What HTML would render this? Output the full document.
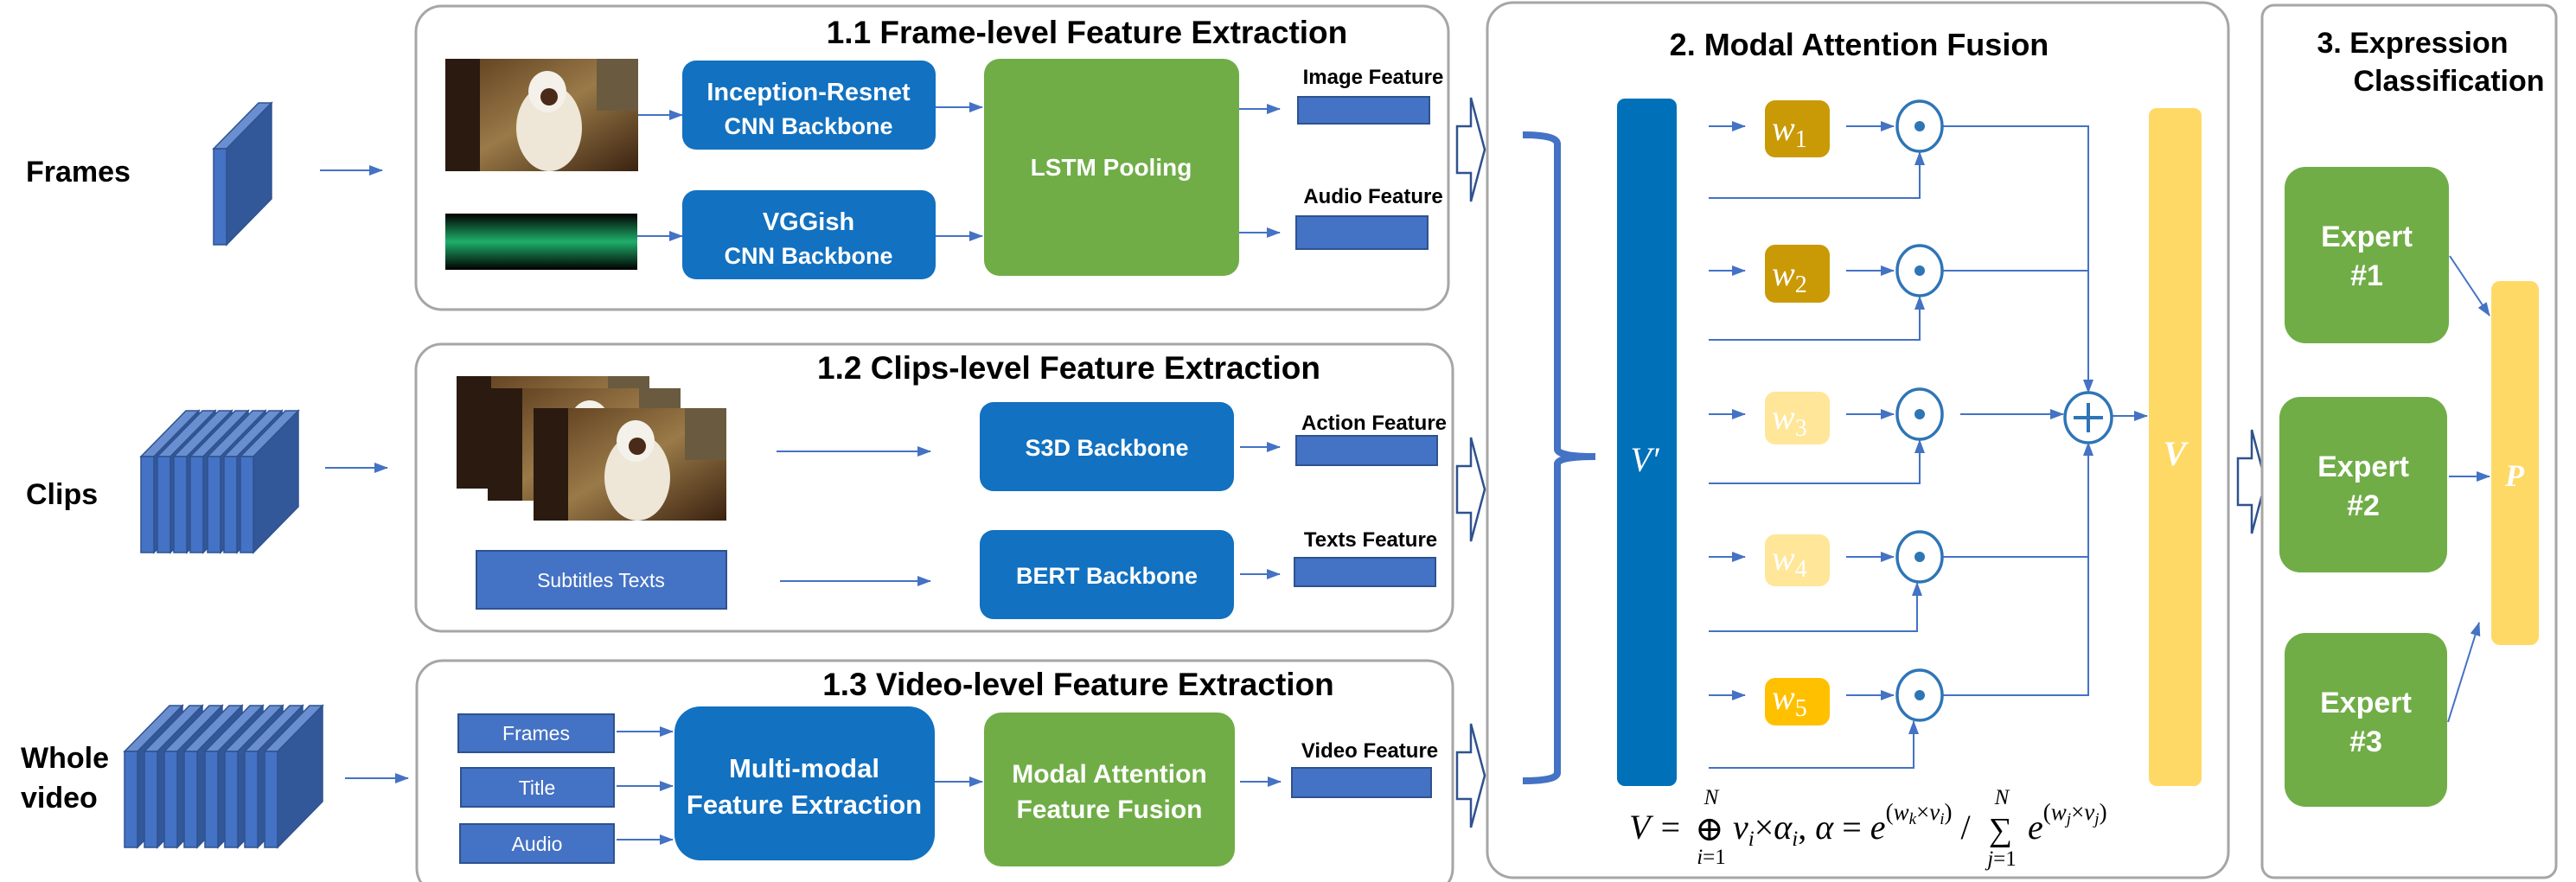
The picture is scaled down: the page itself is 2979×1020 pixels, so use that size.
<!DOCTYPE html>
<html><head><meta charset="utf-8"><style>
html,body{margin:0;padding:0;background:#fff;}
svg{display:block;}
text{font-family:"Liberation Sans",Arial,sans-serif;}
.t{font-weight:bold;fill:#000;}
.w{fill:#fff;font-weight:bold;}
text.m,.m text{font-family:"Liberation Serif","DejaVu Serif",serif;font-style:italic;}
</style></head><body>
<svg width="2979" height="1020" viewBox="0 0 2979 1020" xmlns="http://www.w3.org/2000/svg">
<defs>
<marker id="a" markerWidth="16" markerHeight="12" refX="15" refY="6" orient="auto" markerUnits="userSpaceOnUse"><path d="M0,0 L16,6 L0,12 Z" fill="#4472C4"/></marker>
<g id="slab">
<polygon points="0,0 52,-53 67,-53 15,0" fill="#6A8FD0" stroke="#2F528F" stroke-width="1.5"/>
<polygon points="15,0 67,-53 67,58 15,111" fill="#33589A" stroke="#2F528F" stroke-width="1.5"/>
<rect x="0" y="0" width="15" height="111" fill="#4472C4" stroke="#2F528F" stroke-width="1.5"/>
</g>
<linearGradient id="ph" x1="0" y1="0" x2="1" y2="1"><stop offset="0" stop-color="#5a3a1c"/><stop offset="0.5" stop-color="#9a7a48"/><stop offset="1" stop-color="#3a2210"/></linearGradient>
<g id="photo">
<rect width="223" height="130" fill="url(#ph)"/>
<rect width="40" height="130" fill="#2a1a10"/>
<ellipse cx="120" cy="80" rx="38" ry="50" fill="#eee6d6"/>
<ellipse cx="118" cy="38" rx="22" ry="24" fill="#f4f0ea"/>
<circle cx="120" cy="44" r="10" fill="#4a2a18"/>
<rect x="175" y="0" width="48" height="60" fill="#6a5a40"/>
</g>
<linearGradient id="wv" x1="0" y1="0" x2="0" y2="1"><stop offset="0" stop-color="#000"/><stop offset="0.5" stop-color="#1fae6a"/><stop offset="1" stop-color="#000"/></linearGradient>
</defs>

<text x="30" y="210" class="t" font-size="34">Frames</text>
<use href="#slab" x="247" y="172"/>
<line x1="370" y1="197" x2="442" y2="197" stroke="#4472C4" stroke-width="2" marker-end="url(#a)"/>

<text x="30" y="583" class="t" font-size="34">Clips</text>
<use href="#slab" x="163" y="528"/><use href="#slab" x="182" y="528"/><use href="#slab" x="201" y="528"/><use href="#slab" x="220" y="528"/><use href="#slab" x="240" y="528"/><use href="#slab" x="259" y="528"/><use href="#slab" x="278" y="528"/>
<line x1="376" y1="541" x2="448" y2="541" stroke="#4472C4" stroke-width="2" marker-end="url(#a)"/>

<text x="24" y="888" class="t" font-size="34">Whole</text>
<text x="24" y="934" class="t" font-size="34">video</text>
<use href="#slab" x="144" y="869"/><use href="#slab" x="167" y="869"/><use href="#slab" x="190" y="869"/><use href="#slab" x="213" y="869"/><use href="#slab" x="237" y="869"/><use href="#slab" x="260" y="869"/><use href="#slab" x="283" y="869"/><use href="#slab" x="306" y="869"/>
<line x1="399" y1="900" x2="472" y2="900" stroke="#4472C4" stroke-width="2" marker-end="url(#a)"/>

<!-- Box 1.1 -->
<rect x="481" y="7" width="1194" height="351" rx="30" fill="#fff" stroke="#A6A6A6" stroke-width="3"/>
<text x="1257" y="50" class="t" font-size="37" text-anchor="middle">1.1 Frame-level Feature Extraction</text>
<use href="#photo" x="515" y="68"/>
<rect x="515" y="247" width="222" height="65" fill="url(#wv)"/>
<rect x="789" y="70" width="293" height="103" rx="16" fill="#1271C0"/>
<text x="935" y="116" class="w" font-size="29" text-anchor="middle">Inception-Resnet</text>
<text x="935" y="155" class="w" font-size="27" text-anchor="middle">CNN Backbone</text>
<rect x="789" y="220" width="293" height="103" rx="16" fill="#1271C0"/>
<text x="935" y="266" class="w" font-size="29" text-anchor="middle">VGGish</text>
<text x="935" y="305" class="w" font-size="27" text-anchor="middle">CNN Backbone</text>
<rect x="1138" y="68" width="295" height="251" rx="18" fill="#70AD47"/>
<text x="1285" y="203" class="w" font-size="28" text-anchor="middle">LSTM Pooling</text>
<text x="1588" y="97" class="t" font-size="24" text-anchor="middle">Image Feature</text>
<rect x="1501" y="112" width="152" height="31" fill="#4472C4" stroke="#2F528F" stroke-width="2"/>
<text x="1588" y="235" class="t" font-size="24" text-anchor="middle">Audio Feature</text>
<rect x="1499" y="250" width="152" height="38" fill="#4472C4" stroke="#2F528F" stroke-width="2"/>
<g stroke="#4472C4" stroke-width="2" marker-end="url(#a)">
<line x1="738" y1="133" x2="789" y2="133"/><line x1="1082" y1="124" x2="1136" y2="124"/>
<line x1="737" y1="273" x2="789" y2="273"/><line x1="1082" y1="273" x2="1136" y2="273"/>
<line x1="1433" y1="126" x2="1480" y2="126"/><line x1="1433" y1="269" x2="1480" y2="269"/>
</g>

<!-- Box 1.2 -->
<rect x="481" y="398" width="1199" height="332" rx="30" fill="#fff" stroke="#A6A6A6" stroke-width="3"/>
<text x="1236" y="438" class="t" font-size="37" text-anchor="middle">1.2 Clips-level Feature Extraction</text>
<use href="#photo" x="528" y="435"/><use href="#photo" x="564" y="449"/><use href="#photo" x="617" y="472"/>
<rect x="551" y="637" width="289" height="67" fill="#4472C4" stroke="#2F528F" stroke-width="2"/>
<text x="695" y="679" fill="#fff" font-size="23" text-anchor="middle">Subtitles Texts</text>
<rect x="1133" y="465" width="294" height="103" rx="16" fill="#1271C0"/>
<text x="1280" y="527" class="w" font-size="27" text-anchor="middle">S3D Backbone</text>
<rect x="1133" y="613" width="294" height="103" rx="16" fill="#1271C0"/>
<text x="1280" y="675" class="w" font-size="27" text-anchor="middle">BERT Backbone</text>
<text x="1589" y="497" class="t" font-size="24" text-anchor="middle">Action Feature</text>
<rect x="1499" y="504" width="163" height="34" fill="#4472C4" stroke="#2F528F" stroke-width="2"/>
<text x="1585" y="632" class="t" font-size="24" text-anchor="middle">Texts Feature</text>
<rect x="1497" y="645" width="163" height="33" fill="#4472C4" stroke="#2F528F" stroke-width="2"/>
<g stroke="#4472C4" stroke-width="2" marker-end="url(#a)">
<line x1="898" y1="522" x2="1076" y2="522"/><line x1="902" y1="672" x2="1076" y2="672"/>
<line x1="1434" y1="517" x2="1480" y2="517"/><line x1="1434" y1="664" x2="1480" y2="664"/>
</g>

<!-- Box 1.3 -->
<rect x="482" y="764" width="1198" height="270" rx="30" fill="#fff" stroke="#A6A6A6" stroke-width="3"/>
<text x="1247" y="804" class="t" font-size="37" text-anchor="middle">1.3 Video-level Feature Extraction</text>
<rect x="530" y="826" width="180" height="44" fill="#4472C4" stroke="#2F528F" stroke-width="2"/>
<text x="620" y="856" fill="#fff" font-size="23" text-anchor="middle">Frames</text>
<rect x="533" y="888" width="177" height="45" fill="#4472C4" stroke="#2F528F" stroke-width="2"/>
<text x="621" y="919" fill="#fff" font-size="23" text-anchor="middle">Title</text>
<rect x="532" y="953" width="178" height="45" fill="#4472C4" stroke="#2F528F" stroke-width="2"/>
<text x="621" y="984" fill="#fff" font-size="23" text-anchor="middle">Audio</text>
<rect x="780" y="817" width="301" height="178" rx="30" fill="#1271C0"/>
<text x="930" y="899" class="w" font-size="31" text-anchor="middle">Multi-modal</text>
<text x="930" y="941" class="w" font-size="31" text-anchor="middle">Feature Extraction</text>
<rect x="1138" y="824" width="290" height="178" rx="20" fill="#70AD47"/>
<text x="1283" y="905" class="w" font-size="30" text-anchor="middle">Modal Attention</text>
<text x="1283" y="946" class="w" font-size="30" text-anchor="middle">Feature Fusion</text>
<text x="1584" y="876" class="t" font-size="24" text-anchor="middle">Video Feature</text>
<rect x="1494" y="888" width="161" height="34" fill="#4472C4" stroke="#2F528F" stroke-width="2"/>
<g stroke="#4472C4" stroke-width="2" marker-end="url(#a)">
<line x1="713" y1="846" x2="778" y2="846"/><line x1="713" y1="909" x2="778" y2="909"/><line x1="713" y1="971" x2="778" y2="971"/>
<line x1="1081" y1="904" x2="1136" y2="904"/><line x1="1434" y1="904" x2="1481" y2="904"/>
</g>

<!-- Box 2 -->
<rect x="1720" y="3" width="857" height="1012" rx="30" fill="#fff" stroke="#A6A6A6" stroke-width="3"/>
<g fill="#fff" stroke="#2F528F" stroke-width="2.5">
<polygon points="1685,146 1701,146 1701,113 1717,173 1701,233 1701,200 1685,200"/>
<polygon points="1685,539 1701,539 1701,506 1717,566 1701,626 1701,593 1685,593"/>
<polygon points="1685,870 1701,870 1701,837 1717,897 1701,957 1701,924 1685,924"/>
<polygon points="2588,530 2604,530 2604,497 2620,557 2604,617 2604,584 2588,584"/>
</g>
<text x="2150" y="64" class="t" font-size="36" text-anchor="middle">2. Modal Attention Fusion</text>
<path d="M1761,156 Q1800,156 1801,166 L1801,520 Q1803,528 1845,528 Q1803,528 1801,536 L1801,894 Q1800,903 1761,903" fill="none" stroke="#4472C4" stroke-width="8"/>
<rect x="1870" y="114" width="69" height="795" rx="9" fill="#0070B8"/>
<text x="1902" y="545" class="m" font-size="40" fill="#fff" text-anchor="middle">V′</text>
<rect x="2485" y="125" width="61" height="784" rx="9" fill="#FFD966"/>
<text x="2515" y="538" class="m" font-size="40" fill="#fff" font-weight="bold" text-anchor="middle">V</text>

<g fill="none" stroke="#4472C4" stroke-width="2">
<g marker-end="url(#a)">
<line x1="1976" y1="146" x2="2018" y2="146"/><line x1="2135" y1="146" x2="2190" y2="146"/>
<line x1="1976" y1="313" x2="2018" y2="313"/><line x1="2135" y1="313" x2="2190" y2="313"/>
<line x1="1976" y1="479" x2="2018" y2="479"/><line x1="2135" y1="479" x2="2190" y2="479"/>
<line x1="1976" y1="644" x2="2018" y2="644"/><line x1="2135" y1="644" x2="2190" y2="644"/>
<line x1="1976" y1="804" x2="2018" y2="804"/><line x1="2135" y1="804" x2="2190" y2="804"/>
<polyline points="1976,229 2220,229 2220,176"/>
<polyline points="1976,393 2220,393 2220,343"/>
<polyline points="1976,559 2220,559 2220,509"/>
<polyline points="1976,730 2217,730 2217,674"/>
<polyline points="1976,888 2213,888 2213,834"/>
<polyline points="2247,146 2415,146 2415,454"/>
<line x1="2267" y1="479" x2="2386" y2="479"/>
<polyline points="2247,804 2415,804 2415,512"/>
<line x1="2443" y1="481" x2="2483" y2="481"/>
</g>
<polyline points="2247,313 2415,313"/>
<polyline points="2247,644 2415,644"/>
</g>
<g fill="#fff" stroke="#2E75B6" stroke-width="3.5">
<ellipse cx="2220" cy="146" rx="26" ry="29"/><ellipse cx="2220" cy="313" rx="26" ry="29"/><ellipse cx="2220" cy="479" rx="26" ry="29"/><ellipse cx="2220" cy="644" rx="26" ry="29"/><ellipse cx="2220" cy="804" rx="26" ry="29"/>
<ellipse cx="2415" cy="483" rx="27" ry="29"/>
</g>
<g fill="#2E75B6"><circle cx="2220" cy="146" r="6"/><circle cx="2220" cy="313" r="6"/><circle cx="2220" cy="479" r="6"/><circle cx="2220" cy="644" r="6"/><circle cx="2220" cy="804" r="6"/></g>
<path d="M2415,466 L2415,500 M2398,483 L2432,483" stroke="#2E75B6" stroke-width="4"/>

<rect x="2041" y="116" width="75" height="66" rx="12" fill="#C99A06"/>
<rect x="2041" y="283" width="75" height="67" rx="12" fill="#C99A06"/>
<rect x="2041" y="453" width="75" height="61" rx="12" fill="#FFE699"/>
<rect x="2041" y="618" width="75" height="60" rx="12" fill="#FFE699"/>
<rect x="2041" y="784" width="75" height="55" rx="12" fill="#FFC000"/>
<g class="m" fill="#fff" font-size="40">
<text x="2049" y="162">w<tspan font-size="28" font-style="normal" dy="8">1</tspan></text>
<text x="2049" y="330">w<tspan font-size="28" font-style="normal" dy="8">2</tspan></text>
<text x="2049" y="496">w<tspan font-size="28" font-style="normal" dy="8">3</tspan></text>
<text x="2049" y="659">w<tspan font-size="28" font-style="normal" dy="8">4</tspan></text>
<text x="2049" y="820">w<tspan font-size="28" font-style="normal" dy="8">5</tspan></text>
</g>

<!-- formula -->
<g class="m" fill="#000" font-size="40">
<text x="1884" y="970">V</text>
<text x="1918" y="970" font-style="normal">=</text>
<text x="1960" y="972" font-style="normal" font-size="40">⊕</text>
<text x="1979" y="930" font-size="25" text-anchor="middle">N</text>
<text x="1979" y="999" font-size="25" text-anchor="middle">i<tspan font-style="normal">=1</tspan></text>
<text x="2004" y="970">v<tspan font-size="25" dy="8">i</tspan><tspan dy="-8" font-style="normal">×</tspan>α<tspan font-size="25" dy="8">i</tspan><tspan dy="-8" font-style="normal">, </tspan>α <tspan font-style="normal">= </tspan>e<tspan font-size="27" dy="-22" font-style="normal">(</tspan><tspan font-size="27">w</tspan><tspan font-size="19" dy="5">k</tspan><tspan font-size="27" dy="-5" font-style="normal">×</tspan><tspan font-size="27">v</tspan><tspan font-size="19" dy="5">i</tspan><tspan font-size="27" dy="-5" font-style="normal">)</tspan><tspan dy="22" font-style="normal"> / </tspan></text>
<text x="2300" y="972" font-style="normal" font-size="38">∑</text>
<text x="2315" y="930" font-size="25" text-anchor="middle">N</text>
<text x="2315" y="1001" font-size="25" text-anchor="middle">j<tspan font-style="normal">=1</tspan></text>
<text x="2345" y="970">e<tspan font-size="27" dy="-22" font-style="normal">(</tspan><tspan font-size="27">w</tspan><tspan font-size="19" dy="5">j</tspan><tspan font-size="27" dy="-5" font-style="normal">×</tspan><tspan font-size="27">v</tspan><tspan font-size="19" dy="5">j</tspan><tspan font-size="27" dy="-5" font-style="normal">)</tspan></text>
</g>

<!-- Box 3 -->
<rect x="2616" y="6" width="340" height="1009" rx="14" fill="#fff" stroke="#A6A6A6" stroke-width="3"/>
<text x="2790" y="61" class="t" font-size="34" text-anchor="middle">3. Expression</text>
<text x="2832" y="105" class="t" font-size="34" text-anchor="middle">Classification</text>
<rect x="2642" y="193" width="190" height="204" rx="24" fill="#70AD47"/>
<text x="2737" y="285" class="w" font-size="34" text-anchor="middle">Expert</text>
<text x="2737" y="330" class="w" font-size="34" text-anchor="middle">#1</text>
<rect x="2636" y="459" width="194" height="203" rx="24" fill="#70AD47"/>
<text x="2733" y="551" class="w" font-size="34" text-anchor="middle">Expert</text>
<text x="2733" y="596" class="w" font-size="34" text-anchor="middle">#2</text>
<rect x="2642" y="732" width="188" height="201" rx="24" fill="#70AD47"/>
<text x="2736" y="824" class="w" font-size="34" text-anchor="middle">Expert</text>
<text x="2736" y="869" class="w" font-size="34" text-anchor="middle">#3</text>
<rect x="2881" y="325" width="55" height="421" rx="10" fill="#FFD966"/>
<text x="2908" y="562" class="m" font-size="36" font-weight="bold" fill="#fff" text-anchor="middle">P</text>
<g stroke="#4472C4" stroke-width="2" marker-end="url(#a)">
<line x1="2833" y1="296" x2="2879" y2="365"/>
<line x1="2832" y1="551" x2="2879" y2="551"/>
<line x1="2831" y1="835" x2="2867" y2="720"/>
</g>
</svg>
</body></html>
